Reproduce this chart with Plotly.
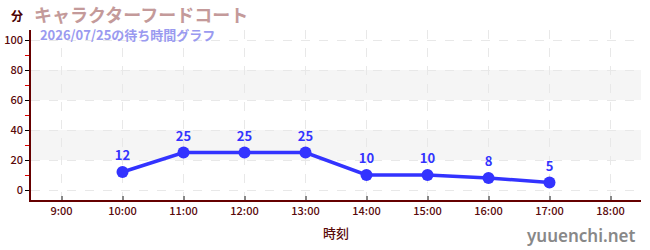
import plotly.graph_objects as go

times = ["10:00", "11:00", "12:00", "13:00", "14:00", "15:00", "16:00", "17:00"]
waits = [12, 25, 25, 25, 10, 10, 8, 5]
date = "2026-07-25"
title_text = "キャラクターフードコート"
subtitle_text = "2026/07/25の待ち時間グラフ"
y_ticks = [0, 20, 40, 60, 80, 100]
x_ticks = ["09:00", "10:00", "11:00", "12:00", "13:00", "14:00", "15:00", "16:00", "17:00", "18:00"]
bands = [(20, 40), (60, 80)]

FONT = "Noto Sans CJK JP"
MAROON = "#5a0a0a"
BLUE = "#3333ff"

xs = [f"{date} {t}" for t in times]

fig = go.Figure()
for lo, hi in bands:
    fig.add_hrect(y0=lo, y1=hi, fillcolor="#f5f5f5", line_width=0, layer="below")

fig.add_trace(go.Scatter(
    x=xs, y=waits, mode="lines+markers+text",
    line=dict(color=BLUE, width=3.5),
    marker=dict(color=BLUE, size=12),
    text=[str(v) for v in waits], textposition="top center",
    textfont=dict(family=FONT, size=13, color=BLUE, weight="bold"),
    cliponaxis=False, hoverinfo="skip",
))

fig.update_layout(
    width=650, height=250,
    margin=dict(l=31, r=9, t=30, b=50, autoexpand=False),
    paper_bgcolor="white", plot_bgcolor="white",
    showlegend=False,
    font=dict(family=FONT, color=MAROON),
)
fig.update_xaxes(
    type="date", automargin=False,
    range=[f"{date} 08:30", f"{date} 18:30"],
    tickvals=[f"{date} {t}" for t in x_ticks],
    ticktext=[t.lstrip("0") for t in x_ticks],
    showline=True, linecolor="#660000", linewidth=1.5,
    ticks="inside", ticklen=4, tickcolor="#888888", tickwidth=2,
    tickfont=dict(size=11, color=MAROON, weight=500),
    showgrid=True, gridcolor="#e8e8e8", griddash="dash", gridwidth=1,
    zeroline=False,
    title=dict(text="時刻", font=dict(size=13, color=MAROON, weight=500), standoff=12),
)
fig.update_yaxes(
    automargin=False,
    range=[-6.67, 106.67],
    tickvals=y_ticks,
    showline=True, linecolor="#660000", linewidth=1.5,
    ticks="outside", ticklen=4, tickcolor="#000000",
    tickfont=dict(size=11, color=MAROON, weight=500),
    showgrid=True, gridcolor="#e8e8e8", griddash="dash", gridwidth=1,
    zeroline=False,
    minor=dict(tickvals=[10, 30, 50, 70, 90], ticks="outside", ticklen=4, tickcolor="#dd0000", showgrid=False),
)

def px_to_paper(px, py):
    return ((px - 31) / 610, (200 - py) / 170)

ax, ay = px_to_paper(17, 15)
fig.add_annotation(text="分", x=ax, y=ay, xref="paper", yref="paper", showarrow=False,
                   xanchor="center", yanchor="middle",
                   font=dict(size=12, color="#4a0000", weight="bold"))
head = (f"<span style='font-size:18px;color:#c49a9a'><b>{title_text}</b></span><br>"
        f"<span style='font-size:13px;color:#9a9af0'><b>&nbsp;&nbsp;{subtitle_text}</b></span>")
ax, ay = px_to_paper(33, 0)
fig.add_annotation(text=head, x=ax, y=ay, xref="paper", yref="paper", showarrow=False,
                   xanchor="left", yanchor="top", align="left", borderpad=0,
                   font=dict(size=14, color="#c49a9a"))
ax, ay = px_to_paper(636, 235)
fig.add_annotation(text="yuuenchi.net", x=ax, y=ay, xref="paper", yref="paper", showarrow=False,
                   xanchor="right", yanchor="middle", borderpad=0,
                   font=dict(size=17, color="#888888", family="Noto Sans", weight=600))

fig.write_html("out.html")
